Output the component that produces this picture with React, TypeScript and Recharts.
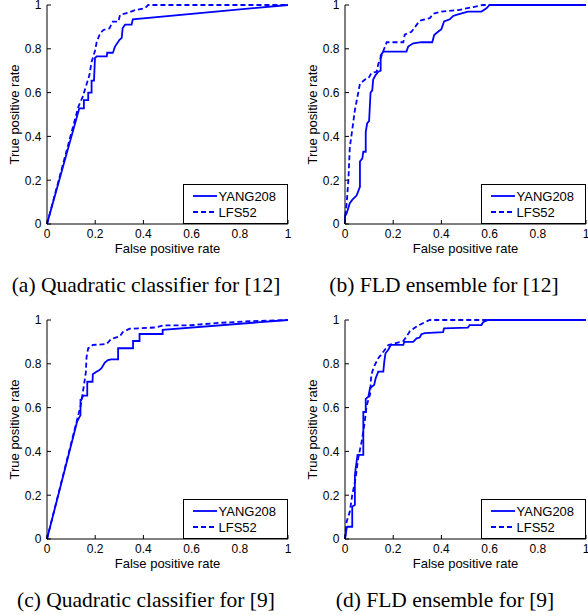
import React from "react";
import { LineChart, Line, XAxis, YAxis } from "recharts";

// axis ticks shared by all four ROC plots
const ticks = [0, 0.2, 0.4, 0.6, 0.8, 1];
const seriesNames = ["YANG208", "LFS52"];
const captions = [
  "(a) Quadratic classifier for [12]",
  "(b) FLD ensemble for [12]",
  "(c) Quadratic classifier for [9]",
  "(d) FLD ensemble for [9]",
];

// (a) Quadratic classifier for [12]
const fprA_yang = [0, 0.134, 0.153, 0.153, 0.171, 0.171, 0.185, 0.185, 0.195, 0.199, 0.206, 0.248, 0.25, 0.273, 0.276, 0.282, 0.292, 0.3, 0.31, 0.314, 0.324, 0.351, 0.356, 1];
const tprA_yang = [0, 0.528, 0.528, 0.566, 0.566, 0.6, 0.6, 0.655, 0.655, 0.757, 0.765, 0.765, 0.782, 0.782, 0.79, 0.81, 0.826, 0.84, 0.85, 0.895, 0.91, 0.91, 0.935, 1];
const fprA_lfs = [0, 0.13, 0.148, 0.162, 0.176, 0.185, 0.199, 0.206, 0.22, 0.234, 0.259, 0.273, 0.296, 0.303, 0.337, 0.365, 0.407, 0.42, 1];
const tprA_lfs = [0, 0.535, 0.58, 0.63, 0.68, 0.74, 0.79, 0.83, 0.87, 0.886, 0.893, 0.924, 0.924, 0.955, 0.965, 0.977, 0.985, 1, 1];

// (b) FLD ensemble for [12]
const fprB_yang = [0, 0, 0.007, 0.02, 0.03, 0.048, 0.062, 0.062, 0.072, 0.076, 0.086, 0.086, 0.092, 0.1, 0.106, 0.113, 0.117, 0.127, 0.138, 0.148, 0.148, 0.159, 0.255, 0.262, 0.283, 0.317, 0.362, 0.37, 0.386, 0.4, 0.411, 0.435, 0.449, 0.462, 0.51, 0.566, 0.587, 0.6, 1];
const tprB_yang = [0, 0.035, 0.05, 0.095, 0.11, 0.13, 0.17, 0.285, 0.3, 0.33, 0.33, 0.42, 0.46, 0.47, 0.6, 0.61, 0.66, 0.68, 0.695, 0.7, 0.77, 0.787, 0.787, 0.81, 0.825, 0.83, 0.83, 0.863, 0.878, 0.89, 0.925, 0.935, 0.95, 0.955, 0.97, 0.97, 0.985, 1, 1];
const fprB_lfs = [0, 0, 0.007, 0.014, 0.02, 0.03, 0.041, 0.055, 0.062, 0.083, 0.097, 0.11, 0.131, 0.138, 0.152, 0.166, 0.173, 0.242, 0.248, 0.276, 0.31, 0.352, 0.366, 0.4, 0.47, 0.53, 0.573, 1];
const tprB_lfs = [0, 0.03, 0.095, 0.2, 0.35, 0.43, 0.52, 0.6, 0.64, 0.66, 0.665, 0.69, 0.695, 0.73, 0.77, 0.81, 0.83, 0.83, 0.865, 0.878, 0.928, 0.94, 0.96, 0.97, 0.977, 0.99, 1, 1];

// (c) Quadratic classifier for [9]
const fprC_yang = [0, 0.125, 0.139, 0.139, 0.142, 0.15, 0.167, 0.167, 0.189, 0.19, 0.205, 0.216, 0.226, 0.24, 0.253, 0.267, 0.295, 0.295, 0.357, 0.357, 0.384, 0.384, 0.48, 0.48, 1];
const tprC_yang = [0, 0.536, 0.566, 0.635, 0.635, 0.655, 0.655, 0.718, 0.718, 0.752, 0.764, 0.77, 0.78, 0.806, 0.817, 0.82, 0.82, 0.871, 0.871, 0.904, 0.904, 0.936, 0.936, 0.955, 1];
const fprC_lfs = [0, 0.125, 0.14, 0.153, 0.161, 0.164, 0.171, 0.18, 0.19, 0.247, 0.267, 0.302, 0.315, 0.343, 0.453, 0.48, 0.6, 0.7, 0.85, 1];
const tprC_lfs = [0, 0.545, 0.61, 0.7, 0.76, 0.83, 0.871, 0.875, 0.886, 0.89, 0.914, 0.925, 0.945, 0.96, 0.966, 0.975, 0.976, 0.986, 0.995, 1];

// (d) FLD ensemble for [9]
const fprD_yang = [0, 0.007, 0.011, 0.03, 0.03, 0.041, 0.041, 0.044, 0.052, 0.076, 0.076, 0.086, 0.086, 0.097, 0.104, 0.121, 0.127, 0.138, 0.159, 0.163, 0.168, 0.179, 0.19, 0.242, 0.246, 0.283, 0.297, 0.31, 0.317, 0.331, 0.407, 0.411, 0.51, 0.517, 0.566, 0.573, 0.593, 1];
const tprD_yang = [0, 0.05, 0.056, 0.056, 0.148, 0.155, 0.29, 0.32, 0.384, 0.384, 0.58, 0.58, 0.64, 0.65, 0.69, 0.703, 0.733, 0.764, 0.764, 0.81, 0.848, 0.863, 0.886, 0.886, 0.9, 0.9, 0.916, 0.92, 0.935, 0.94, 0.945, 0.962, 0.965, 0.977, 0.977, 0.99, 1, 1];
const fprD_lfs = [0, 0.007, 0.02, 0.03, 0.044, 0.055, 0.069, 0.08, 0.09, 0.104, 0.108, 0.113, 0.124, 0.138, 0.159, 0.18, 0.207, 0.242, 0.255, 0.27, 0.297, 0.331, 0.352, 1];
const tprD_lfs = [0, 0.08, 0.125, 0.2, 0.277, 0.37, 0.444, 0.52, 0.61, 0.66, 0.734, 0.764, 0.795, 0.825, 0.855, 0.886, 0.893, 0.904, 0.924, 0.95, 0.97, 0.99, 1, 1];

const toPoints = (fpr: number[], tpr: number[]) =>
  fpr.map((x, i) => ({ x, y: tpr[i] }));

const SANS = '"Liberation Sans", Arial, Helvetica, sans-serif';
const SERIF = '"Liberation Serif", "Times New Roman", serif';
const BLUE = "#0000ff";

const PLOT_W = 241;
const PLOT_H = 219;
const TOP = 12; // room above the plot so the "1" tick label is not clipped
const Y_AXIS_W = 47;
const X_AXIS_H = 36;

// matlab style: ticks point into the box
const BottomTick = (props: any) => {
  const { x, y, payload } = props;
  return (
    <g>
      <line x1={x} x2={x} y1={y} y2={y - 4} stroke="#000" />
      <text x={x} y={y + 5.5} dy="0.71em" textAnchor="middle" fontSize={12} fontFamily={SANS} fill="#000">
        {String(payload.value)}
      </text>
    </g>
  );
};

const LeftTick = (props: any) => {
  const { x, y, payload } = props;
  return (
    <g>
      <line x1={x} x2={x + 4} y1={y} y2={y} stroke="#000" />
      <text x={x - 5.5} y={y} dy="0.36em" textAnchor="end" fontSize={12} fontFamily={SANS} fill="#000">
        {String(payload.value)}
      </text>
    </g>
  );
};

const TopTick = (props: any) => (
  <line x1={props.x} x2={props.x} y1={props.y} y2={props.y + 4} stroke="#000" />
);

const RightTick = (props: any) => (
  <line x1={props.x} x2={props.x - 4} y1={props.y} y2={props.y} stroke="#000" />
);

const XTitle = (props: any) => {
  const vb = props.viewBox || { x: Y_AXIS_W, y: TOP + PLOT_H, width: PLOT_W, height: X_AXIS_H };
  return (
    <text x={vb.x + vb.width / 2} y={vb.y + 28.5} textAnchor="middle" fontSize={13} fontFamily={SANS} fill="#000">
      False positive rate
    </text>
  );
};

const YTitle = (props: any) => {
  const vb = props.viewBox || { x: 0, y: TOP, width: Y_AXIS_W, height: PLOT_H };
  const cx = vb.x + 18.5;
  const cy = vb.y + vb.height / 2;
  return (
    <text x={cx} y={cy} transform={`rotate(-90 ${cx} ${cy})`} textAnchor="middle" fontSize={13} fontFamily={SANS} fill="#000">
      True positive rate
    </text>
  );
};

const LegendBox = () => (
  <div
    style={{
      position: "absolute",
      left: Y_AXIS_W + PLOT_W - 105,
      top: TOP + PLOT_H - 40,
      width: 105,
      height: 40,
      boxSizing: "border-box",
      border: "1px solid #000",
      background: "#fff",
    }}
  >
    <svg width={103} height={38} style={{ display: "block" }}>
      <line x1={9} x2={33} y1={11} y2={11} stroke={BLUE} strokeWidth={1.8} />
      <text x={34.5} y={15.5} fontSize={13} fontFamily={SANS} fill="#000">{seriesNames[0]}</text>
      <line x1={9} x2={33} y1={27} y2={27} stroke={BLUE} strokeWidth={1.8} strokeDasharray="5 3" />
      <text x={34.5} y={31.5} fontSize={13} fontFamily={SANS} fill="#000">{seriesNames[1]}</text>
    </svg>
  </div>
);

interface PanelProps {
  left: number;
  top: number;
  width: number;
  yang: { x: number; y: number }[];
  lfs: { x: number; y: number }[];
}

const RocPanel = ({ left, top, width, yang, lfs }: PanelProps) => {
  const height = TOP + PLOT_H + X_AXIS_H;
  return (
    <div style={{ position: "absolute", left, top, width, height }}>
      <LineChart
        width={width}
        height={height}
        margin={{ top: TOP, right: width - Y_AXIS_W - PLOT_W, left: 0, bottom: 0 }}
      >
        <XAxis
          dataKey="x"
          type="number"
          domain={[0, 1]}
          ticks={ticks}
          interval={0}
          height={X_AXIS_H}
          tickLine={false}
          tickSize={0}
          tickMargin={0}
          axisLine={{ stroke: "#000" }}
          tick={<BottomTick />}
          label={<XTitle />}
        />
        <XAxis
          xAxisId="top"
          orientation="top"
          dataKey="x"
          type="number"
          domain={[0, 1]}
          ticks={ticks}
          interval={0}
          height={0}
          tickLine={false}
          tickSize={0}
          tickMargin={0}
          axisLine={{ stroke: "#000" }}
          tick={<TopTick />}
        />
        <YAxis
          type="number"
          domain={[0, 1]}
          ticks={ticks}
          interval={0}
          width={Y_AXIS_W}
          tickLine={false}
          tickSize={0}
          tickMargin={0}
          axisLine={{ stroke: "#000" }}
          tick={<LeftTick />}
          label={<YTitle />}
        />
        <YAxis
          yAxisId="right"
          orientation="right"
          type="number"
          domain={[0, 1]}
          ticks={ticks}
          interval={0}
          width={0}
          tickLine={false}
          tickSize={0}
          tickMargin={0}
          axisLine={{ stroke: "#000" }}
          tick={<RightTick />}
        />
        <Line
          data={yang}
          dataKey="y"
          name={seriesNames[0]}
          type="linear"
          stroke={BLUE}
          strokeWidth={1.8}
          dot={false}
          activeDot={false}
          isAnimationActive={false}
        />
        <Line
          data={lfs}
          dataKey="y"
          name={seriesNames[1]}
          type="linear"
          stroke={BLUE}
          strokeWidth={1.8}
          strokeDasharray="5 3"
          dot={false}
          activeDot={false}
          isAnimationActive={false}
        />
      </LineChart>
      <LegendBox />
    </div>
  );
};

export default function App() {
  return (
    <div
      style={{
        position: "absolute",
        left: 0,
        top: 0,
        width: 588,
        height: 615,
        background: "#fff",
        overflow: "hidden",
      }}
    >
      <RocPanel left={0} top={5 - TOP} width={300} yang={toPoints(fprA_yang, tprA_yang)} lfs={toPoints(fprA_lfs, tprA_lfs)} />
      <RocPanel left={298} top={5 - TOP} width={290} yang={toPoints(fprB_yang, tprB_yang)} lfs={toPoints(fprB_lfs, tprB_lfs)} />
      <RocPanel left={0} top={320 - TOP} width={300} yang={toPoints(fprC_yang, tprC_yang)} lfs={toPoints(fprC_lfs, tprC_lfs)} />
      <RocPanel left={298} top={320 - TOP} width={290} yang={toPoints(fprD_yang, tprD_yang)} lfs={toPoints(fprD_lfs, tprD_lfs)} />
      <svg width={588} height={615} style={{ position: "absolute", left: 0, top: 0, pointerEvents: "none" }}>
        <text x={146} y={291.7} textAnchor="middle" fontSize={21.5} fontFamily={SERIF} fill="#000">{captions[0]}</text>
        <text x={444} y={291.7} textAnchor="middle" fontSize={21.5} fontFamily={SERIF} fill="#000">{captions[1]}</text>
        <text x={146} y={606.7} textAnchor="middle" fontSize={21.5} fontFamily={SERIF} fill="#000">{captions[2]}</text>
        <text x={445} y={606.7} textAnchor="middle" fontSize={21.5} fontFamily={SERIF} fill="#000">{captions[3]}</text>
      </svg>
    </div>
  );
}
